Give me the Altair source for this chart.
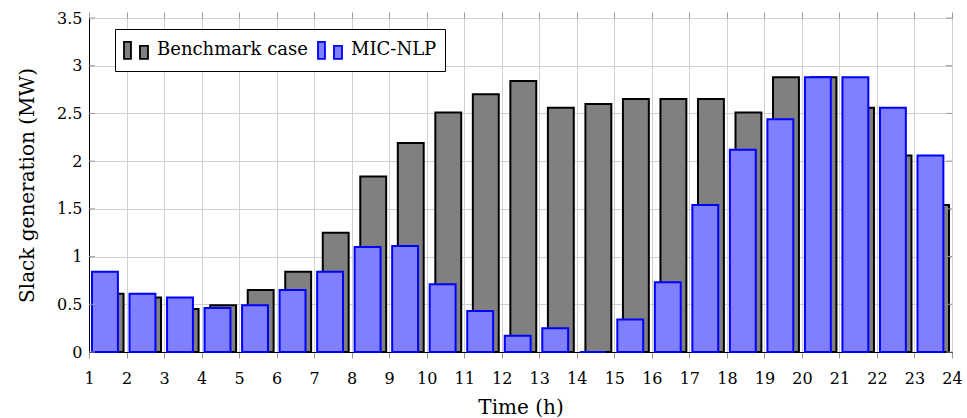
import altair as alt
import pandas as pd

hours = list(range(1, 24))
benchmark = [0.61, 0.57, 0.45, 0.49, 0.65, 0.84, 1.25, 1.84, 2.19, 2.51, 2.70, 2.84,
             2.56, 2.60, 2.65, 2.65, 2.65, 2.51, 2.88, 2.88, 2.56, 2.06, 1.54]
mic_nlp = [0.84, 0.61, 0.57, 0.46, 0.49, 0.65, 0.84, 1.10, 1.11, 0.71, 0.43, 0.17,
           0.25, 0.0, 0.34, 0.73, 1.54, 2.12, 2.44, 2.88, 2.88, 2.56, 2.06]
series_names = ["Benchmark case", "MIC-NLP"]
x_ticks = list(range(1, 25))
y_ticks = [0, 0.5, 1, 1.5, 2, 2.5, 3, 3.5]

offsets = {"Benchmark case": 0.075, "MIC-NLP": -0.075}
bar_w = 0.69
rows = []
for name, vals in zip(series_names, [benchmark, mic_nlp]):
    for h, v in zip(hours, vals):
        c = h + 0.5 + offsets[name]
        rows.append({"series": name, "x0": c - bar_w / 2, "x1": c + bar_w / 2,
                     "value": v, "base": 0})
df = pd.DataFrame(rows)
ydf = pd.DataFrame({"y": y_ticks})

FONT = "DejaVu Serif"
xscale = alt.Scale(domain=[1, 24], nice=False, zero=False)
yscale = alt.Scale(domain=[0, 3.5], nice=False)

sym = "M-1,-0.71H-0.42V0.71H-1Z M0.33,-0.38H1V0.71H0.33Z"


def make_legend():
    return alt.Legend(title=None, orient="none", legendX=26, legendY=11,
                      direction="horizontal", columns=2,
                      symbolType=sym, symbolSize=576, symbolStrokeWidth=1.8,
                      labelFont=FONT, labelFontSize=18, labelColor="black",
                      labelOffset=8, columnPadding=6,
                      strokeColor="black", fillColor="white", padding=8,
                      cornerRadius=0, symbolOpacity=1)


bars = alt.Chart(df).mark_bar(strokeWidth=2, opacity=1).encode(
    x=alt.X("x0:Q", scale=xscale,
            axis=alt.Axis(values=x_ticks, format="d", title="Time (h)", grid=True,
                          gridColor="#d0d0d0", tickColor="#999999", tickSize=6,
                          labelFont=FONT, labelFontSize=16, labelColor="black",
                          titleFont=FONT, titleFontSize=20, titleFontWeight="normal",
                          titleColor="black", titlePadding=11, labelPadding=12,
                          domainColor="black", labelFlush=False)),
    x2="x1:Q",
    y=alt.Y("value:Q", scale=yscale,
            axis=alt.Axis(values=y_ticks, format="~g", title="Slack generation (MW)",
                          grid=True, gridColor="#d0d0d0", ticks=False,
                          labelFont=FONT, labelFontSize=16, labelColor="black",
                          titleFont=FONT, titleFontSize=20, titleFontWeight="normal",
                          titleColor="black", titlePadding=19, labelPadding=7,
                          domainColor="black")),
    y2="base:Q",
    fill=alt.Fill("series:N", scale=alt.Scale(domain=series_names, range=["#808080", "#8080ff"]),
                  legend=make_legend()),
    stroke=alt.Stroke("series:N", scale=alt.Scale(domain=series_names, range=["black", "blue"]),
                      legend=make_legend()),
)

top_axis = alt.Chart(pd.DataFrame({"x": x_ticks})).mark_tick(opacity=0).encode(
    x=alt.X("x:Q", scale=xscale,
            axis=alt.Axis(orient="top", values=x_ticks, labels=False, title=None, grid=False,
                          tickColor="#999999", tickSize=6, domain=False)),
)

left_ticks = alt.Chart(ydf).mark_rule(color="#999999", strokeWidth=1).encode(
    y=alt.Y("y:Q", scale=yscale), x=alt.value(0), x2=alt.value(6))
right_ticks = alt.Chart(ydf).mark_rule(color="#999999", strokeWidth=1).encode(
    y=alt.Y("y:Q", scale=yscale), x=alt.value(857), x2=alt.value(863))

chart = alt.layer(bars, top_axis, left_ticks, right_ticks).resolve_axis(
    x="independent"
).properties(
    width=863, height=334,
    autosize=alt.AutoSizeParams(type="none"),
    padding={"left": 89, "top": 18, "right": 15, "bottom": 66},
).configure_view(stroke="black", strokeWidth=1)

chart.save("out.html", embed_options={"renderer": "svg", "actions": False})
